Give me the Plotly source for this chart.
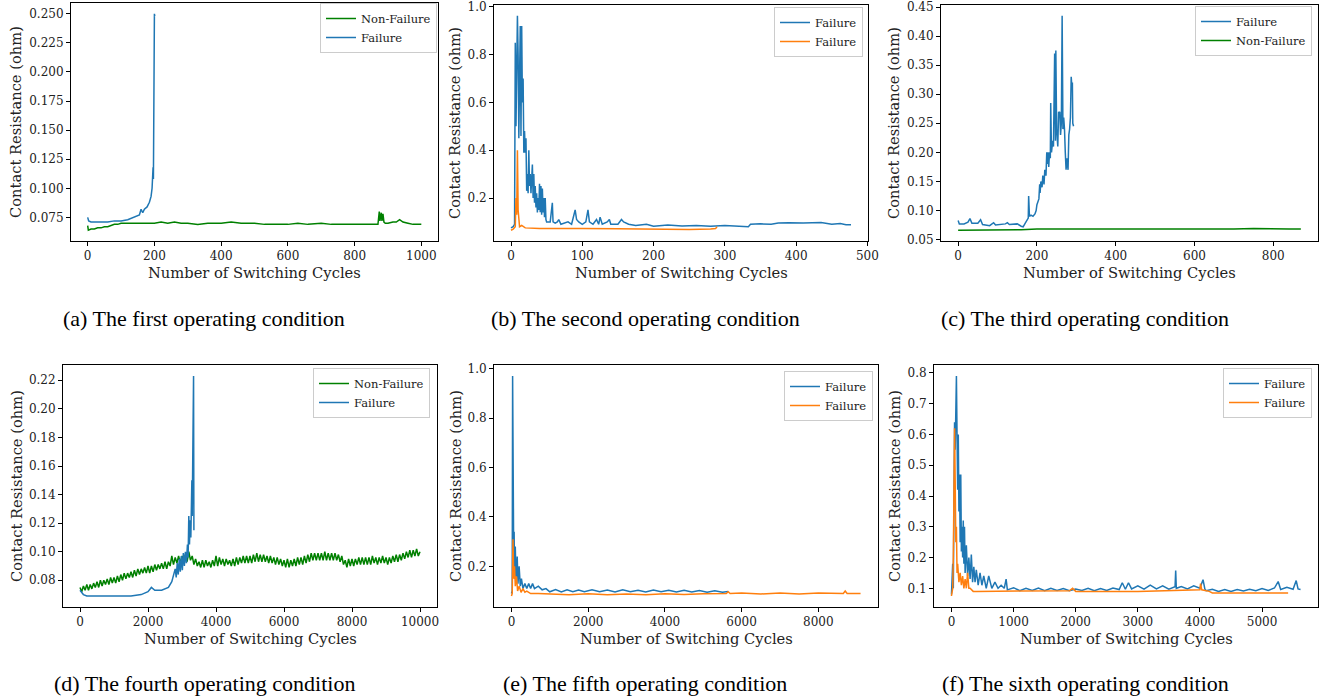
import plotly.graph_objects as go

BLUE = "#1f77b4"
ORANGE = "#ff7f0e"
GREEN = "#008000"

# ---------------- Panel (a) ----------------
a_nonfail_x = [0, 2, 10, 20, 30, 40, 50, 60, 70, 80, 90, 100, 120, 140, 160, 180, 200, 220, 240, 260, 280, 300,
               330, 360, 400, 430, 460, 500, 530, 560, 600, 630, 660, 700, 730, 760, 800, 830, 860, 870, 874, 876,
               880, 882, 885, 888, 892, 900, 915, 925, 935, 945, 960, 975, 990, 1000]
a_nonfail_y = [0.068, 0.064, 0.065, 0.065, 0.066, 0.066, 0.067, 0.067, 0.068, 0.069, 0.069, 0.070, 0.070, 0.070,
               0.070, 0.070, 0.070, 0.071, 0.070, 0.071, 0.070, 0.070, 0.069, 0.070, 0.070, 0.071, 0.070, 0.070,
               0.069, 0.069, 0.069, 0.070, 0.069, 0.070, 0.069, 0.069, 0.069, 0.069, 0.069, 0.069, 0.080, 0.072,
               0.079, 0.072, 0.078, 0.071, 0.070, 0.070, 0.071, 0.071, 0.073, 0.071, 0.070, 0.069, 0.069, 0.069]
a_fail_x = [0, 3, 10, 20, 40, 60, 80, 100, 120, 140, 155, 160, 165, 170, 178, 185, 190, 193, 195, 196, 197, 198,
            199, 200, 201]
a_fail_y = [0.075, 0.072, 0.071, 0.071, 0.071, 0.071, 0.072, 0.072, 0.073, 0.075, 0.077, 0.082, 0.079, 0.082, 0.084,
            0.088, 0.093, 0.100, 0.110, 0.118, 0.108, 0.135, 0.200, 0.250, 0.248]

# ---------------- Panel (b) ----------------
b_fail1_x = [0, 3, 5, 6, 7, 8, 9, 10, 11, 12, 13, 14, 15, 16, 17, 18, 19, 20, 21, 22, 23, 24, 25, 26, 27, 28, 29,
             30, 31, 32, 33, 34, 35, 36, 37, 38, 39, 40, 41, 42, 43, 44, 45, 46, 47, 48, 49, 50, 52, 55, 58, 59,
             62, 65, 67, 70, 80, 85, 90, 92, 95, 100, 105, 108, 110, 115, 120, 123, 125, 128, 135, 138, 140, 150,
             155, 158, 165, 175, 190, 200, 220, 240, 260, 280, 300, 320, 333, 336, 350, 365, 375, 390, 410, 435,
             450, 462, 470, 477]
b_fail1_y = [0.075, 0.08, 0.09, 0.85, 0.50, 0.85, 0.963, 0.80, 0.45, 0.70, 0.92, 0.46, 0.92, 0.60, 0.70, 0.39, 0.48,
             0.39, 0.45, 0.23, 0.30, 0.22, 0.40, 0.25, 0.30, 0.22, 0.26, 0.34, 0.20, 0.30, 0.18, 0.25, 0.16, 0.22,
             0.14, 0.20, 0.15, 0.26, 0.14, 0.25, 0.13, 0.24, 0.14, 0.20, 0.12, 0.20, 0.11, 0.10, 0.10, 0.10, 0.18,
             0.10, 0.095, 0.10, 0.11, 0.09, 0.10, 0.09, 0.15, 0.11, 0.10, 0.09, 0.10, 0.15, 0.10, 0.09, 0.11, 0.09,
             0.12, 0.09, 0.10, 0.11, 0.09, 0.09, 0.11, 0.10, 0.09, 0.085, 0.09, 0.082, 0.087, 0.083, 0.085, 0.082,
             0.085, 0.082, 0.080, 0.090, 0.092, 0.090, 0.095, 0.097, 0.095, 0.098, 0.090, 0.093, 0.088, 0.088]
b_fail2_x = [0, 3, 6, 7, 8, 9, 10, 11, 12, 15, 18, 20, 40, 70, 100, 150, 200, 250, 280, 287, 289]
b_fail2_y = [0.065, 0.070, 0.080, 0.200, 0.130, 0.400, 0.150, 0.090, 0.080, 0.085, 0.078, 0.075, 0.072, 0.073,
             0.072, 0.071, 0.069, 0.068, 0.070, 0.072, 0.080]

# ---------------- Panel (c) ----------------
c_fail_x = [0, 3, 15, 25, 30, 35, 50, 57, 62, 80, 90, 95, 120, 125, 130, 150, 160, 165, 170, 175, 178, 179, 181,
            185, 190, 195, 198, 200, 203, 205, 207, 208, 210, 213, 215, 218, 220, 223, 225, 227, 228, 230, 232,
            234, 235, 237, 240, 242, 245, 247, 248, 250, 253, 255, 257, 258, 260, 262, 264, 266, 268, 270, 272,
            274, 276, 277, 279, 281, 283, 285, 287, 289, 290, 291, 293]
c_fail_y = [0.083, 0.077, 0.077, 0.080, 0.086, 0.078, 0.078, 0.084, 0.076, 0.074, 0.079, 0.075, 0.077, 0.079,
            0.076, 0.077, 0.073, 0.072, 0.078, 0.085, 0.087, 0.125, 0.090, 0.092, 0.090, 0.094, 0.100, 0.110,
            0.115, 0.120, 0.145, 0.130, 0.150, 0.140, 0.160, 0.145, 0.170, 0.160, 0.200, 0.180, 0.200, 0.175,
            0.200, 0.190, 0.285, 0.200, 0.220, 0.210, 0.370, 0.220, 0.375, 0.240, 0.210, 0.270, 0.260, 0.270,
            0.230, 0.250, 0.435, 0.240, 0.260, 0.240, 0.200, 0.170, 0.190, 0.180, 0.170, 0.230, 0.240, 0.260,
            0.330, 0.310, 0.320, 0.250, 0.245]
c_nonfail_x = [0, 40, 80, 120, 160, 200, 250, 300, 350, 400, 450, 500, 550, 600, 650, 700, 750, 800, 840, 870]
c_nonfail_y = [0.066, 0.066, 0.066, 0.067, 0.067, 0.068, 0.068, 0.068, 0.068, 0.067, 0.068, 0.068, 0.068, 0.068,
               0.068, 0.068, 0.069, 0.068, 0.068, 0.068]

# ---------------- Panel (d) ----------------
d_nonfail_x = list(range(0, 10001, 50))
d_nonfail_y = [0.075, 0.072, 0.076, 0.073, 0.077, 0.073, 0.077, 0.074, 0.078, 0.075,
               0.079, 0.075, 0.080, 0.076, 0.080, 0.077, 0.081, 0.077, 0.082, 0.078,
               0.082, 0.078, 0.083, 0.079, 0.084, 0.080, 0.085, 0.081, 0.085, 0.082,
               0.086, 0.082, 0.087, 0.083, 0.088, 0.084, 0.088, 0.085, 0.089, 0.085,
               0.090, 0.085, 0.090, 0.086, 0.091, 0.087, 0.091, 0.088, 0.092, 0.088,
               0.093, 0.088, 0.093, 0.090, 0.097, 0.091, 0.096, 0.092, 0.097, 0.092,
               0.097, 0.092, 0.098, 0.093, 0.100, 0.094, 0.097, 0.091, 0.095, 0.090,
               0.093, 0.089, 0.094, 0.089, 0.094, 0.090, 0.093, 0.089, 0.094, 0.090,
               0.097, 0.090, 0.096, 0.091, 0.095, 0.090, 0.095, 0.091, 0.094, 0.090,
               0.095, 0.090, 0.096, 0.091, 0.096, 0.092, 0.097, 0.092, 0.097, 0.092,
               0.097, 0.092, 0.098, 0.093, 0.099, 0.093, 0.098, 0.093, 0.098, 0.093,
               0.097, 0.092, 0.097, 0.092, 0.096, 0.091, 0.096, 0.091, 0.095, 0.090,
               0.094, 0.089, 0.095, 0.089, 0.094, 0.090, 0.095, 0.090, 0.096, 0.091,
               0.096, 0.091, 0.097, 0.092, 0.098, 0.093, 0.099, 0.094, 0.099, 0.094,
               0.099, 0.094, 0.099, 0.094, 0.100, 0.094, 0.099, 0.094, 0.099, 0.094,
               0.099, 0.094, 0.098, 0.093, 0.097, 0.091, 0.094, 0.089, 0.095, 0.090,
               0.095, 0.090, 0.095, 0.091, 0.096, 0.091, 0.096, 0.091, 0.096, 0.091,
               0.096, 0.091, 0.097, 0.092, 0.096, 0.091, 0.096, 0.092, 0.097, 0.092,
               0.096, 0.091, 0.096, 0.092, 0.097, 0.093, 0.098, 0.093, 0.098, 0.094,
               0.099, 0.095, 0.100, 0.096, 0.101, 0.096, 0.101, 0.097, 0.102, 0.097,
               0.100]
d_fail_x = [0, 100, 200, 500, 1000, 1500, 1800, 2000, 2100, 2200, 2400, 2600, 2700, 2750, 2800, 2830, 2860, 2890,
            2920, 2950, 2980, 3010, 3040, 3070, 3100, 3130, 3160, 3180, 3200, 3220, 3240, 3260, 3270, 3280, 3290,
            3300, 3310, 3320, 3330, 3340, 3350]
d_fail_y = [0.073, 0.070, 0.069, 0.069, 0.069, 0.069, 0.070, 0.072, 0.075, 0.073, 0.073, 0.075, 0.079, 0.083,
            0.088, 0.082, 0.092, 0.084, 0.095, 0.086, 0.097, 0.087, 0.099, 0.090, 0.100, 0.092, 0.105, 0.096,
            0.125, 0.105, 0.122, 0.110, 0.140, 0.118, 0.150, 0.125, 0.170, 0.135, 0.185, 0.223, 0.115]

# ---------------- Panel (e) ----------------
e_fail1_x = [0, 20, 30, 40, 50, 60, 70, 80, 100, 120, 150, 170, 200, 230, 260, 300, 350, 400, 450, 500, 550, 600,
             700, 800, 900, 1000, 1150, 1300, 1450, 1600, 1750, 1900, 2100, 2300, 2500, 2700, 2900, 3100, 3300,
             3500, 3700, 3900, 4100, 4300, 4500, 4700, 4900, 5100, 5300, 5500, 5650]
e_fail1_y = [0.09, 0.10, 0.97, 0.30, 0.57, 0.20, 0.34, 0.15, 0.28, 0.14, 0.24, 0.13, 0.20, 0.12, 0.15, 0.11, 0.13,
             0.11, 0.13, 0.11, 0.13, 0.11, 0.12, 0.105, 0.11, 0.097, 0.106, 0.096, 0.105, 0.097, 0.104, 0.097,
             0.105, 0.097, 0.104, 0.096, 0.105, 0.097, 0.103, 0.096, 0.104, 0.097, 0.103, 0.096, 0.103, 0.096,
             0.102, 0.095, 0.101, 0.095, 0.098]
e_fail2_x = [0, 20, 40, 60, 80, 100, 130, 160, 200, 250, 300, 350, 400, 500, 700, 1000, 1500, 2000, 2500, 3000,
             3500, 4000, 4500, 5000, 5600, 5650, 5700, 6000, 6500, 7000, 7500, 8000, 8650, 8700, 8750, 9100]
e_fail2_y = [0.08, 0.09, 0.31, 0.15, 0.20, 0.12, 0.16, 0.10, 0.12, 0.095, 0.11, 0.095, 0.10, 0.09, 0.09, 0.088,
             0.085, 0.089, 0.085, 0.088, 0.085, 0.089, 0.086, 0.089, 0.09, 0.097, 0.09, 0.092, 0.088, 0.092, 0.088,
             0.092, 0.09, 0.10, 0.09, 0.09]

# ---------------- Panel (f) ----------------
f_fail1_x = [0, 20, 30, 50, 60, 70, 80, 90, 100, 110, 120, 130, 140, 150, 160, 170, 180, 190, 200, 210, 220, 240,
             260, 280, 300, 320, 340, 360, 380, 400, 430, 460, 490, 520, 560, 600, 650, 700, 750, 800, 850, 880,
             900, 1000, 1100, 1200, 1300, 1400, 1500, 1600, 1700, 1800, 1900, 2000, 2100, 2200, 2300, 2400, 2500,
             2600, 2700, 2750, 2800, 2850, 2900, 3000, 3100, 3200, 3300, 3400, 3500, 3600, 3610, 3620, 3700, 3800,
             3900, 4000, 4050, 4080, 4100, 4200, 4300, 4400, 4500, 4600, 4700, 4800, 4900, 5000, 5100, 5200, 5260,
             5300, 5400, 5500, 5550, 5580, 5620]
f_fail1_y = [0.08, 0.18, 0.10, 0.64, 0.55, 0.65, 0.79, 0.60, 0.42, 0.60, 0.35, 0.47, 0.25, 0.47, 0.22, 0.30, 0.20,
             0.32, 0.18, 0.30, 0.15, 0.24, 0.14, 0.20, 0.13, 0.21, 0.12, 0.17, 0.12, 0.16, 0.11, 0.15, 0.11, 0.14,
             0.10, 0.14, 0.10, 0.12, 0.10, 0.11, 0.10, 0.13,
             0.095, 0.102, 0.092, 0.100, 0.093, 0.101, 0.092, 0.100, 0.093, 0.099, 0.092, 0.098, 0.093, 0.100,
             0.092, 0.099, 0.093, 0.101, 0.096, 0.118, 0.097, 0.118, 0.098, 0.108, 0.097, 0.110, 0.098, 0.108,
             0.097, 0.105, 0.158, 0.100, 0.106, 0.098, 0.108, 0.100, 0.128, 0.097, 0.092, 0.097, 0.090, 0.096,
             0.090, 0.096, 0.091, 0.097, 0.092, 0.099, 0.093, 0.101, 0.122, 0.096, 0.103, 0.097, 0.125, 0.098,
             0.096]
f_fail2_x = [0, 20, 30, 40, 50, 60, 70, 80, 90, 100, 120, 140, 160, 180, 200, 220, 240, 260, 280, 300, 350, 400,
             600, 800, 1000, 1500, 1900, 1950, 2000, 3000, 4000, 4010, 4030, 4150, 4200, 4500, 5000, 5420]
f_fail2_y = [0.075, 0.10, 0.20, 0.35, 0.62, 0.45, 0.25, 0.30, 0.15, 0.18, 0.12, 0.15, 0.11, 0.14, 0.10, 0.13,
             0.10, 0.15, 0.10, 0.10, 0.09, 0.09, 0.09, 0.09, 0.09, 0.09, 0.092, 0.10, 0.09, 0.09, 0.095, 0.115,
             0.095, 0.09, 0.085, 0.085, 0.085, 0.085]

captions = ["(a) The first operating condition", "(b) The second operating condition",
            "(c) The third operating condition", "(d) The fourth operating condition",
            "(e) The fifth operating condition", "(f) The sixth operating condition"]
x_title = "Number of Switching Cycles"
y_title = "Contact Resistance (ohm)"

W, H = 1330, 698
SERIF = "DejaVu Serif"
TXT = "#222222"

# panel frames in pixels: (left, right, top, bottom)
frames = [(71, 438, 3, 241), (494, 868, 5, 241), (941, 1318, 5, 241),
          (63, 437, 365, 607), (494, 878, 365, 607), (934, 1318, 365, 607)]
ytitle_x = [16, 455, 894, 16, 455, 894]
legend_boxes = [(437, 3), (863, 7), (1312, 6), (430, 368), (873, 371), (1312, 368)]
caption_pos = [(204, 318), (645, 318), (1085, 318), (204, 683), (645, 683), (1085, 683)]

panels = [
    [("Non-Failure", a_nonfail_x, a_nonfail_y, GREEN), ("Failure", a_fail_x, a_fail_y, BLUE)],
    [("Failure", b_fail1_x, b_fail1_y, BLUE), ("Failure", b_fail2_x, b_fail2_y, ORANGE)],
    [("Failure", c_fail_x, c_fail_y, BLUE), ("Non-Failure", c_nonfail_x, c_nonfail_y, GREEN)],
    [("Non-Failure", d_nonfail_x, d_nonfail_y, GREEN), ("Failure", d_fail_x, d_fail_y, BLUE)],
    [("Failure", e_fail1_x, e_fail1_y, BLUE), ("Failure", e_fail2_x, e_fail2_y, ORANGE)],
    [("Failure", f_fail1_x, f_fail1_y, BLUE), ("Failure", f_fail2_x, f_fail2_y, ORANGE)],
]
xticks = [list(range(0, 1001, 200)), list(range(0, 501, 100)), list(range(0, 801, 200)),
          list(range(0, 10001, 2000)), list(range(0, 8001, 2000)), list(range(0, 5001, 1000))]
yticks = [[0.075, 0.100, 0.125, 0.150, 0.175, 0.200, 0.225, 0.250],
          [0.2, 0.4, 0.6, 0.8, 1.0],
          [0.05, 0.10, 0.15, 0.20, 0.25, 0.30, 0.35, 0.40, 0.45],
          [0.08, 0.10, 0.12, 0.14, 0.16, 0.18, 0.20, 0.22],
          [0.2, 0.4, 0.6, 0.8, 1.0],
          [0.1, 0.2, 0.3, 0.4, 0.5, 0.6, 0.7, 0.8]]
yfmt = [".3f", ".1f", ".2f", ".2f", ".1f", ".1f"]

fig = go.Figure()
layout = dict(width=W, height=H, margin=dict(l=0, r=0, t=0, b=0), template="none",
              paper_bgcolor="white", plot_bgcolor="white", showlegend=True,
              font=dict(family=SERIF, size=12, color=TXT), annotations=[])

for i, series in enumerate(panels):
    k = i + 1
    xa = "x" if k == 1 else f"x{k}"
    ya = "y" if k == 1 else f"y{k}"
    lg = "legend" if k == 1 else f"legend{k}"
    xs_all, ys_all = [], []
    for name, xs, ys, col in series:
        fig.add_trace(go.Scatter(x=xs, y=ys, mode="lines", name=name, xaxis=xa, yaxis=ya, legend=lg,
                                 line=dict(color=col, width=1.5)))
        xs_all += xs
        ys_all += ys
    x0, x1 = min(xs_all), max(xs_all)
    y0, y1 = min(ys_all), max(ys_all)
    dx, dy = (x1 - x0) * 0.05, (y1 - y0) * 0.05
    l, r, t, b = frames[i]
    axcommon = dict(showline=True, linecolor="black", linewidth=1, mirror=True, ticks="outside",
                    ticklen=4, tickcolor="black", showgrid=False, zeroline=False, automargin=False,
                    ticklabeloverflow="allow",
                    tickfont=dict(family=SERIF, size=12, color=TXT))
    layout["xaxis" if k == 1 else f"xaxis{k}"] = dict(
        domain=[l / W, r / W], anchor=ya, range=[x0 - dx, x1 + dx], tickvals=xticks[i], tickformat="d",
        **axcommon)
    layout["yaxis" if k == 1 else f"yaxis{k}"] = dict(
        domain=[1 - b / H, 1 - t / H], anchor=xa, range=[y0 - dy, y1 + dy], tickvals=yticks[i],
        tickformat=yfmt[i], **axcommon)
    # axis titles
    layout["annotations"].append(dict(text=x_title, x=(l + r) / 2 / W, y=1 - (b + 31) / H, xref="paper",
                                      yref="paper", showarrow=False, xanchor="center", yanchor="middle",
                                      font=dict(family=SERIF, size=14.7, color=TXT)))
    layout["annotations"].append(dict(text=y_title, x=ytitle_x[i] / W, y=1 - (t + b) / 2 / H, xref="paper",
                                      yref="paper", showarrow=False, xanchor="center", yanchor="middle",
                                      textangle=-90, font=dict(family=SERIF, size=14.7, color=TXT)))
    lx, ly = legend_boxes[i]
    layout[lg] = dict(x=lx / W, y=1 - ly / H, xanchor="right", yanchor="top", bgcolor="rgba(255,255,255,0.8)",
                      bordercolor="#cccccc", borderwidth=1, font=dict(family=SERIF, size=11.5, color=TXT),
                      tracegroupgap=0, itemwidth=30)
    cx, cy = caption_pos[i]
    layout["annotations"].append(dict(text=captions[i], x=cx / W, y=1 - cy / H, xref="paper", yref="paper",
                                      showarrow=False, xanchor="center", yanchor="middle",
                                      font=dict(family="Liberation Serif", size=22, color="black")))

fig.update_layout(**layout)
fig.write_html("out.html", config={"displayModeBar": False},
               post_script="document.body.style.margin='0px';")
